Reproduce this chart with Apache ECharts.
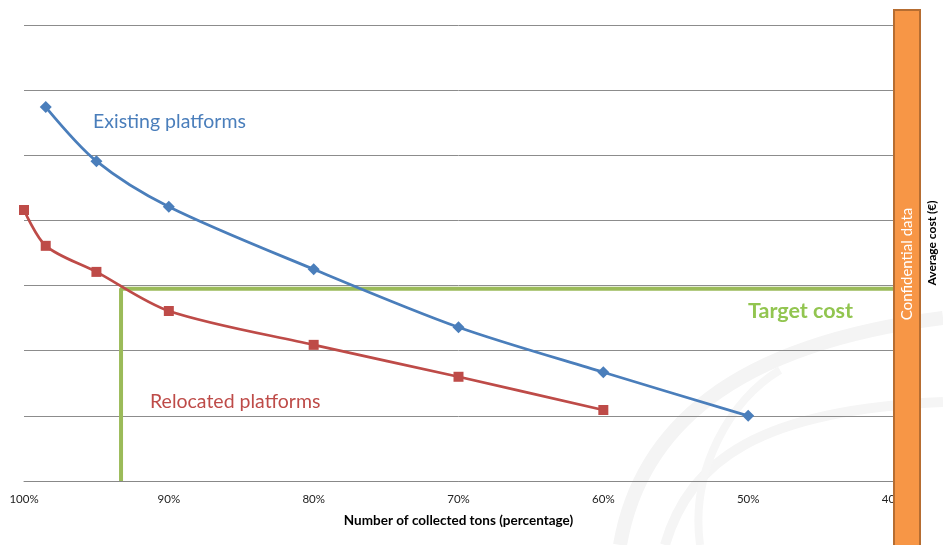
<!DOCTYPE html>
<html><head><meta charset="utf-8">
<script src="https://cdn.jsdelivr.net/npm/echarts@6/dist/echarts.min.js"></script>
<style>html,body{margin:0;padding:0;background:#fff}#c{width:943px;height:545px}</style>
</head><body><div id="c"></div>
<script>
const existingX = [98.5, 95, 90, 80, 70, 60, 50];
const existingY = [5.74, 4.91, 4.21, 3.25, 2.36, 1.67, 1.0];
const relocatedX = [100, 98.5, 95, 90, 80, 70, 60];
const relocatedY = [4.16, 3.61, 3.21, 2.61, 2.09, 1.60, 1.09];
const targetX = 93.3;
const targetCost = 2.95;
const xTicks = [100, 90, 80, 70, 60, 50, 40];

const chart = echarts.init(document.getElementById('c'));
const FONT = 'Lato, "Open Sans", sans-serif';
function swoosh(x1, y1, cx1, cy1, cx2, cy2, x2, y2, color, w) {
  return {type: 'bezierCurve', z: -10,
    shape: {x1: x1, y1: y1, cpx1: cx1, cpy1: cy1, cpx2: cx2, cpy2: cy2, x2: x2, y2: y2},
    style: {fill: null, stroke: color, lineWidth: w}};
}
chart.setOption({
  animation: false,
  grid: {left: 24, right: 50, top: 25, bottom: 64},
  xAxis: {
    type: 'value', inverse: true, min: 40, max: 100, interval: 10,
    name: 'Number of collected tons (percentage)', nameLocation: 'middle', nameGap: 33,
    nameTextStyle: {fontFamily: FONT, fontWeight: 'bold', fontSize: 13.5, color: '#000'},
    axisLine: {lineStyle: {color: '#888', width: 1}},
    axisTick: {show: false},
    splitLine: {show: false},
    axisLabel: {fontFamily: FONT, fontSize: 11.5, color: '#222', margin: 12,
      formatter: v => v + '%'}
  },
  yAxis: {
    type: 'value', min: 0, max: 7, interval: 1,
    axisLine: {show: false}, axisTick: {show: false}, axisLabel: {show: false},
    splitLine: {lineStyle: {color: '#8c8c8c', width: 1}}
  },
  series: [
    {
      type: 'line', name: 'Target', data: [[targetX, 0], [targetX, targetCost], [40, targetCost]],
      showSymbol: false, lineStyle: {color: '#9BBB59', width: 4}, z: 1
    },
    {
      type: 'line', name: 'Existing platforms', smooth: 0.3,
      data: existingX.map((x, i) => [x, existingY[i]]),
      symbol: 'diamond', symbolSize: 12,
      itemStyle: {color: '#4A7EBB'}, lineStyle: {color: '#4A7EBB', width: 2.75}, z: 3
    },
    {
      type: 'line', name: 'Relocated platforms', smooth: 0.3,
      data: relocatedX.map((x, i) => [x, relocatedY[i]]),
      symbol: 'rect', symbolSize: 10,
      itemStyle: {color: '#BE4B48'}, lineStyle: {color: '#BE4B48', width: 2.75}, z: 3
    }
  ],
  graphic: [
    swoosh(620, 545, 640, 430, 730, 345, 943, 318, '#f4f4f4', 14),
    swoosh(665, 545, 690, 460, 760, 410, 943, 402, '#f5f5f5', 10),
    swoosh(700, 545, 690, 470, 730, 400, 780, 370, '#f6f6f6', 8),
    {type: 'text', left: 93, top: 112, style: {text: 'Existing platforms', fill: '#4A7EBB', font: '19.5px ' + FONT}},
    {type: 'text', left: 150, top: 392, style: {text: 'Relocated platforms', fill: '#BE4B48', font: '19.5px ' + FONT}},
    {type: 'text', left: 748, top: 300, style: {text: 'Target cost', fill: '#92C550', font: 'bold 21.5px ' + FONT}},
    {type: 'rect', z: 100, shape: {x: 894, y: 10, width: 26, height: 545},
      style: {fill: '#F79646', stroke: '#B66D31', lineWidth: 2}},
    {type: 'text', z: 101, x: 907, y: 264, rotation: Math.PI / 2,
      style: {text: 'Confidential data', fill: '#fff', font: '15px ' + FONT, align: 'center', verticalAlign: 'middle'}},
    {type: 'text', z: 101, x: 932, y: 243, rotation: Math.PI / 2,
      style: {text: 'Average cost (€)', fill: '#000', font: 'bold 12px ' + FONT, align: 'center', verticalAlign: 'middle'}}
  ]
});
</script></body></html>
